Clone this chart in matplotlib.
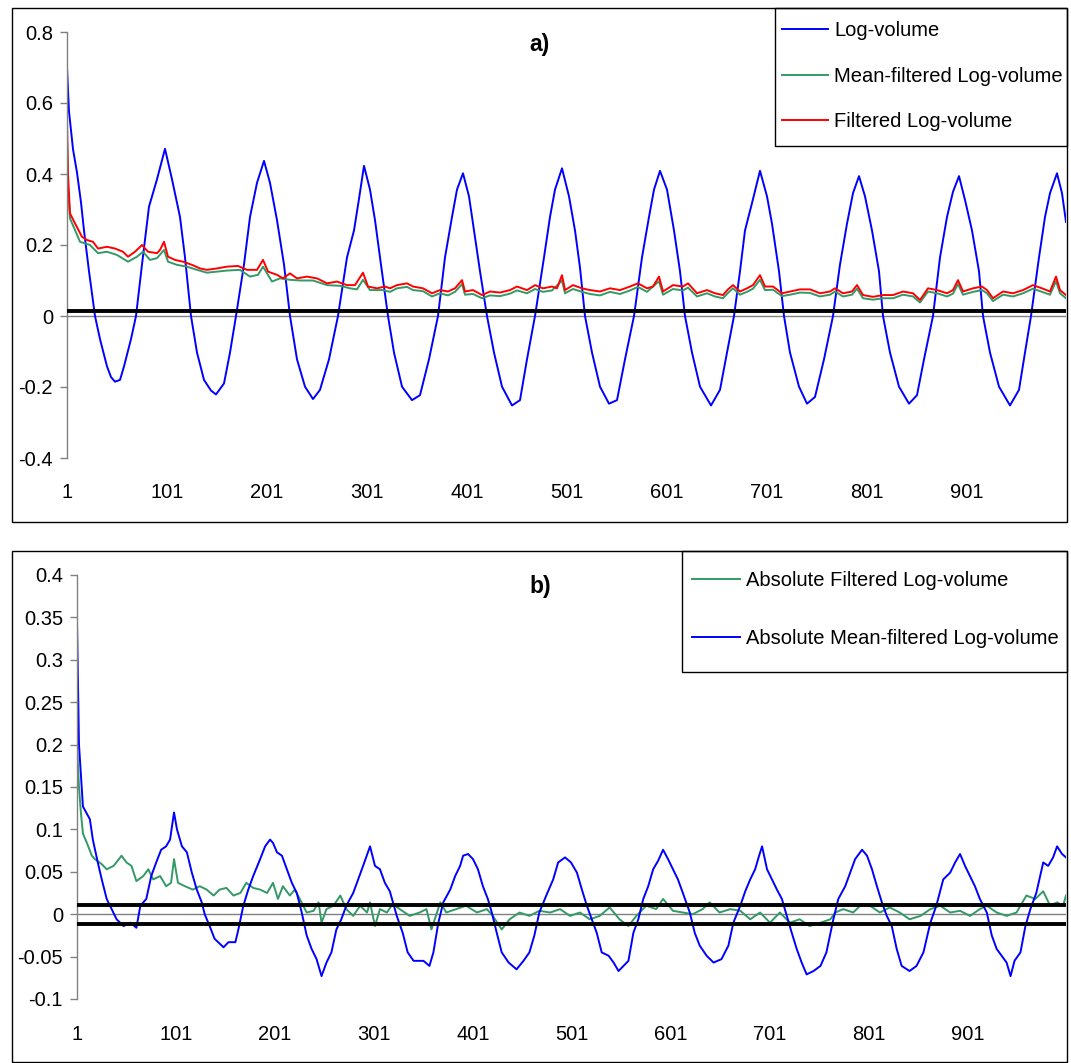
import matplotlib
matplotlib.use('Agg')
import matplotlib.pyplot as plt
from matplotlib.patches import Rectangle

plt.rcParams['font.family'] = ['Liberation Sans', 'DejaVu Sans']

# ---------------- data ----------------
# Panel a) Log-volume
a_logvol_x = [1, 3, 7, 11, 15, 18, 23, 29, 34, 41, 45, 49, 54, 58, 65, 70, 76, 83, 91, 99,
              106, 114, 119, 125, 131, 138, 145, 150, 158, 164, 170, 178, 184, 191, 198,
              204, 211, 218, 224, 231, 239, 247, 254, 263, 272, 281, 288, 293, 298,
              304, 309, 314, 322, 328, 336, 346, 354, 363, 372, 379, 386, 391, 397,
              403, 409, 414, 421, 428, 436, 446, 454, 461, 469, 478, 484, 489, 496,
              503, 509, 514, 519, 526, 534, 543, 551, 559, 568, 576, 583, 588, 594,
              601, 608, 614, 619, 626, 634, 645, 654, 661, 668, 674, 679, 686, 694,
              701, 706, 713, 718, 724, 733, 741, 749, 758, 767, 774, 781, 787, 793,
              799, 806, 813, 817, 824, 833, 843, 851, 858, 867, 874, 881, 887, 893,
              899, 906, 913, 917, 924, 933, 944, 953, 959, 965, 973, 979, 984, 991,
              996, 1000]
a_logvol_y = [0.70, 0.576, 0.47, 0.404, 0.32, 0.241, 0.126, 0.0, -0.065, -0.142, -0.172, -0.185, -0.18, -0.142, -0.065, 0.0, 0.145, 0.308, 0.385, 0.471,
              0.385, 0.279, 0.165, 0.0, -0.103, -0.18, -0.21, -0.221, -0.19, -0.103, 0.0, 0.145, 0.279, 0.375, 0.437,
              0.375, 0.27, 0.145, 0.0, -0.122, -0.199, -0.234, -0.208, -0.122, 0.0, 0.165, 0.241, 0.33, 0.423,
              0.356, 0.27, 0.165, 0.0, -0.103, -0.199, -0.237, -0.223, -0.122, 0.0, 0.165, 0.279, 0.356, 0.402,
              0.337, 0.222, 0.126, 0.0, -0.103, -0.199, -0.252, -0.237, -0.122, 0.0, 0.165, 0.279, 0.356, 0.416,
              0.337, 0.241, 0.136, 0.0, -0.103, -0.199, -0.247, -0.237, -0.122, 0.0, 0.165, 0.279, 0.356, 0.409,
              0.356, 0.241, 0.126, 0.0, -0.103, -0.199, -0.252, -0.208, -0.103, 0.0, 0.126, 0.241, 0.318, 0.409,
              0.337, 0.26, 0.126, 0.0, -0.103, -0.199, -0.247, -0.228, -0.122, 0.0, 0.145, 0.26, 0.346, 0.394,
              0.337, 0.241, 0.126, 0.0, -0.103, -0.199, -0.247, -0.223, -0.122, 0.0, 0.165, 0.279, 0.35, 0.394,
              0.327, 0.241, 0.126, 0.0, -0.103, -0.199, -0.252, -0.208, -0.103, 0.0, 0.165, 0.279, 0.346, 0.402,
              0.346, 0.265]

# Panel a) Filtered Log-volume (red)
a_filt_x = [1, 2, 4, 9, 16, 21, 27, 32, 41, 49, 57, 62, 69, 76, 82, 91, 94, 98, 102, 109, 117, 126,
            134, 141, 151, 161, 172, 181, 191, 197, 202, 211, 217, 224, 231, 241, 251, 261, 271,
            281, 289, 297, 302, 311, 319, 324, 331, 341, 347, 357, 366, 374, 382, 389, 396, 399,
            407, 416, 424, 434, 444, 451, 461, 469, 477, 486, 491, 496, 499, 507, 516, 524, 534,
            544, 554, 564, 572, 581, 587, 593, 597, 607, 617, 622, 631, 641, 649, 657, 662, 667,
            674, 681, 687, 694, 699, 707, 716, 724, 734, 744, 754, 764, 769, 777, 786, 791, 797,
            807, 817, 827, 837, 847, 854, 862, 871, 881, 887, 892, 897, 907, 916, 921, 927, 937,
            947, 957, 967, 976, 984, 990, 994, 1000]
a_filt_y = [0.548, 0.40, 0.289, 0.261, 0.223, 0.214, 0.209, 0.19, 0.195, 0.19, 0.181, 0.167, 0.181, 0.20, 0.181, 0.177, 0.186, 0.209, 0.167, 0.158, 0.153, 0.144,
            0.134, 0.13, 0.134, 0.139, 0.141, 0.13, 0.13, 0.158, 0.125, 0.116, 0.106, 0.12, 0.106, 0.111, 0.106, 0.092, 0.097,
            0.087, 0.087, 0.122, 0.083, 0.078, 0.083, 0.078, 0.087, 0.092, 0.083, 0.078, 0.064, 0.073, 0.069, 0.078, 0.101, 0.069,
            0.073, 0.059, 0.069, 0.066, 0.073, 0.083, 0.073, 0.087, 0.078, 0.083, 0.078, 0.115, 0.073, 0.087, 0.078, 0.073, 0.069,
            0.078, 0.073, 0.083, 0.092, 0.078, 0.083, 0.111, 0.069, 0.087, 0.083, 0.092, 0.064, 0.073, 0.064, 0.059, 0.075, 0.087,
            0.069, 0.078, 0.087, 0.115, 0.083, 0.083, 0.064, 0.069, 0.075, 0.075, 0.064, 0.069, 0.078, 0.064, 0.069, 0.087, 0.059,
            0.054, 0.059, 0.059, 0.069, 0.064, 0.045, 0.078, 0.073, 0.064, 0.073, 0.101, 0.069, 0.078, 0.083, 0.073, 0.05, 0.069,
            0.064, 0.073, 0.087, 0.078, 0.069, 0.111, 0.073, 0.059]

# Panel a) Mean-filtered Log-volume (green)
a_mean_x = [1, 2, 4, 14, 24, 32, 41, 51, 62, 71, 77, 84, 91, 98, 102, 111, 121, 131, 141, 151, 161,
            174, 184, 192, 197, 206, 214, 224, 234, 247, 261, 274, 284, 291, 297, 304, 317, 324, 331,
            341, 347, 357, 366, 374, 382, 389, 396, 399, 407, 416, 424, 434, 444, 451, 461, 469, 477,
            486, 496, 499, 507, 516, 524, 534, 544, 554, 564, 572, 581, 593, 597, 607, 617, 622, 631,
            641, 649, 657, 662, 667, 674, 681, 687, 694, 699, 707, 716, 724, 734, 744, 754, 764, 769,
            777, 786, 791, 797, 807, 817, 827, 837, 847, 854, 862, 871, 881, 887, 892, 897, 907, 916,
            921, 927, 937, 947, 957, 967, 976, 984, 990, 994, 1000]
a_mean_y = [0.50, 0.36, 0.275, 0.209, 0.20, 0.177, 0.181, 0.172, 0.153, 0.167, 0.181, 0.158, 0.163, 0.186, 0.153, 0.144, 0.139, 0.13, 0.122, 0.125, 0.128,
            0.13, 0.111, 0.116, 0.139, 0.097, 0.106, 0.102, 0.10, 0.10, 0.087, 0.085, 0.078, 0.075, 0.102, 0.073, 0.073, 0.068, 0.078,
            0.082, 0.073, 0.07, 0.055, 0.064, 0.058, 0.068, 0.09, 0.06, 0.062, 0.05, 0.058, 0.056, 0.063, 0.072, 0.064, 0.076, 0.068,
            0.072, 0.10, 0.064, 0.076, 0.068, 0.062, 0.058, 0.068, 0.062, 0.072, 0.082, 0.068, 0.098, 0.06, 0.076, 0.072, 0.08, 0.055,
            0.064, 0.055, 0.05, 0.065, 0.078, 0.06, 0.068, 0.077, 0.102, 0.073, 0.074, 0.056, 0.06, 0.066, 0.065, 0.055, 0.06, 0.069,
            0.055, 0.06, 0.077, 0.05, 0.046, 0.05, 0.05, 0.06, 0.055, 0.038, 0.069, 0.064, 0.055, 0.063, 0.09, 0.06, 0.068, 0.073,
            0.064, 0.042, 0.06, 0.055, 0.064, 0.077, 0.068, 0.06, 0.098, 0.064, 0.05]

# Panel b) Absolute Mean-filtered Log-volume (blue)
b_mean_x = [1, 3, 7, 14, 17, 22, 26, 31, 36, 41, 48, 55, 61, 65, 71, 76, 81, 86, 91, 95, 99,
            102, 107, 112, 117, 122, 127, 130, 135, 140, 149, 154, 161, 164, 169, 174, 179, 186,
            191, 196, 199, 203, 208, 213, 218, 223, 228, 233, 238, 243, 248, 253, 258, 263, 268,
            273, 280, 285, 290, 297, 302, 307, 312, 317, 324, 330, 335, 341, 351, 357, 361, 366,
            371, 378, 383, 388, 391, 396, 401, 406, 411, 416, 420, 425, 430, 437, 445, 452, 458,
            463, 468, 475, 482, 487, 494, 500, 506, 511, 516, 521, 526, 531, 538, 543, 548, 553,
            558, 563, 568, 573, 578, 583, 588, 593, 598, 603, 608, 613, 620, 625, 630, 637, 644,
            652, 659, 664, 671, 676, 681, 686, 690, 693, 698, 703, 708, 713, 718, 723, 728, 733,
            738, 745, 752, 758, 765, 770, 777, 782, 787, 794, 799, 804, 809, 814, 819, 824, 829,
            834, 842, 849, 856, 863, 869, 876, 883, 888, 893, 898, 903, 908, 913, 920, 925, 930,
            935, 940, 944, 948, 954, 959, 964, 970, 977, 982, 987, 991, 996, 1000]
b_mean_y = [0.345, 0.20, 0.127, 0.112, 0.088, 0.061, 0.041, 0.018, 0.006, -0.006, -0.014, -0.01, -0.016, 0.01, 0.018, 0.045, 0.061, 0.076, 0.08, 0.088, 0.12,
            0.10, 0.08, 0.073, 0.049, 0.029, 0.014, 0.0, -0.014, -0.029, -0.039, -0.033, -0.033, -0.018, 0.01, 0.029, 0.045, 0.065,
            0.08, 0.088, 0.084, 0.073, 0.069, 0.053, 0.037, 0.025, 0.002, -0.025, -0.041, -0.053, -0.073, -0.057, -0.045, -0.018, -0.006,
            0.01, 0.025, 0.041, 0.057, 0.08, 0.057, 0.053, 0.037, 0.027, -0.002, -0.022, -0.045, -0.055, -0.055, -0.061, -0.045, -0.01,
            0.014, 0.029, 0.045, 0.057, 0.069, 0.071, 0.065, 0.053, 0.033, 0.018, 0.002, -0.022, -0.045, -0.057, -0.065, -0.055, -0.045,
            -0.025, 0.002, 0.022, 0.041, 0.061, 0.067, 0.061, 0.049, 0.029, 0.01, -0.006, -0.022, -0.045, -0.049, -0.057, -0.067, -0.061,
            -0.055, -0.022, -0.006, 0.018, 0.033, 0.053, 0.063, 0.076, 0.065, 0.053, 0.041, 0.025, 0.002, -0.022, -0.037, -0.049, -0.057,
            -0.053, -0.037, -0.01, 0.01, 0.027, 0.041, 0.053, 0.069, 0.08, 0.053, 0.041, 0.029, 0.018, -0.002, -0.022, -0.041, -0.057,
            -0.071, -0.067, -0.061, -0.045, -0.006, 0.018, 0.033, 0.049, 0.065, 0.076, 0.069, 0.053, 0.033, 0.014, -0.002, -0.014, -0.041,
            -0.061, -0.067, -0.061, -0.045, -0.01, 0.01, 0.041, 0.049, 0.061, 0.071, 0.057, 0.045, 0.033, 0.018, 0.002, -0.025, -0.041,
            -0.049, -0.057, -0.073, -0.055, -0.045, -0.014, 0.006, 0.025, 0.061, 0.057, 0.067, 0.08, 0.071, 0.067]

# Panel b) Absolute Filtered Log-volume (green)
b_filt_x = [1, 3, 5, 7, 11, 16, 19, 26, 31, 38, 46, 51, 56, 61, 68, 73, 78, 85, 91, 96, 99, 103,
            110, 118, 125, 132, 139, 145, 152, 159, 166, 172, 179, 186, 193, 199, 204, 209, 216,
            221, 226, 233, 240, 245, 248, 253, 260, 267, 273, 280, 287, 294, 297, 302, 307, 314,
            320, 327, 337, 347, 354, 359, 368, 374, 384, 394, 405, 415, 421, 430, 438, 448, 458,
            468, 479, 489, 499, 509, 519, 529, 539, 549, 558, 566, 576, 586, 593, 603, 613, 623,
            633, 640, 650, 661, 671, 681, 691, 701, 711, 721, 731, 741, 752, 762, 767, 775, 785,
            794, 802, 812, 822, 832, 842, 853, 863, 873, 883, 893, 903, 913, 920, 930, 940, 950,
            960, 969, 977, 984, 991, 997, 1000]
b_filt_y = [0.20, 0.15, 0.119, 0.095, 0.084, 0.069, 0.065, 0.059, 0.053, 0.057, 0.069, 0.061, 0.057, 0.039, 0.045, 0.053, 0.041, 0.045, 0.033, 0.037, 0.065, 0.037,
            0.033, 0.029, 0.033, 0.029, 0.022, 0.029, 0.031, 0.022, 0.025, 0.037, 0.031, 0.029, 0.025, 0.037, 0.018, 0.033, 0.022,
            0.029, 0.018, 0.002, 0.004, 0.014, -0.01, 0.006, 0.01, 0.022, 0.006, -0.002, 0.01, 0.002, 0.014, -0.014, 0.006, 0.002,
            0.012, 0.006, -0.002, 0.002, 0.006, -0.018, 0.014, 0.002, 0.006, 0.01, 0.002, 0.006, -0.002, -0.018, -0.006, 0.002, -0.002,
            0.004, 0.002, 0.006, -0.002, 0.002, -0.006, -0.002, 0.008, -0.006, -0.014, -0.002, 0.01, 0.006, 0.018, 0.004, 0.002, 0.0,
            0.006, 0.014, 0.002, 0.006, 0.004, -0.006, 0.002, -0.01, 0.002, -0.01, -0.006, -0.014, -0.01, -0.006, 0.002, 0.006, 0.002,
            0.012, 0.01, 0.002, 0.008, 0.002, -0.006, -0.002, 0.006, 0.01, 0.002, 0.004, -0.002, 0.006, 0.01, 0.002, -0.002, 0.002,
            0.022, 0.018, 0.027, 0.01, 0.014, 0.01, 0.022]

a_xticks = [1, 101, 201, 301, 401, 501, 601, 701, 801, 901]
a_yticks = [-0.4, -0.2, 0, 0.2, 0.4, 0.6, 0.8]
a_ytick_labels = ['-0.4', '-0.2', '0', '0.2', '0.4', '0.6', '0.8']
b_yticks = [-0.1, -0.05, 0, 0.05, 0.1, 0.15, 0.2, 0.25, 0.3, 0.35, 0.4]
b_ytick_labels = ['-0.1', '-0.05', '0', '0.05', '0.1', '0.15', '0.2', '0.25', '0.3', '0.35', '0.4']
a_thresholds = [0.013]
b_thresholds = [0.011, -0.011]

# ---------------- layout ----------------
W, H = 1071, 1063
fig = plt.figure(figsize=(W / 100, H / 100), dpi=100)

def fx(px):
    return px / W

def fy(py):
    return 1 - py / H

FS = 14.5
BLUE = '#0000FF'
RED = '#FF0000'
GREEN = '#339966'
GRAY = '#808080'

# outer panel borders + legend frames (no fill)
for (x0, y0, x1, y1) in [(12, 8, 1067, 522), (12, 551, 1067, 1062),
                         (775, 8, 1067, 146), (682, 551, 1067, 672)]:
    fig.patches.append(Rectangle((fx(x0), fy(y1)), fx(x1) - fx(x0), fy(y0) - fy(y1),
                                 transform=fig.transFigure, fill=False, edgecolor='black',
                                 linewidth=1.0, zorder=3))


def style_axes(ax, xpad):
    for s in ['top', 'right', 'bottom']:
        ax.spines[s].set_visible(False)
    ax.spines['left'].set_color(GRAY)
    ax.spines['left'].set_linewidth(1.0)
    ax.tick_params(axis='y', direction='out', length=5, width=1, color=GRAY,
                   labelsize=FS, pad=5)
    ax.tick_params(axis='x', length=0, labelsize=FS, pad=xpad)
    ax.set_xticks(a_xticks)
    ax.set_xticklabels([str(t) for t in a_xticks])
    ax.patch.set_alpha(0)


# ---- panel a ----
axa = fig.add_axes([fx(67), fy(458), fx(1066) - fx(67), fy(32) - fy(458)])
axa.plot(a_logvol_x, a_logvol_y, color=BLUE, lw=1.4, label='Log-volume')
axa.plot(a_mean_x, a_mean_y, color=GREEN, lw=1.4, label='Mean-filtered Log-volume')
axa.plot(a_filt_x, a_filt_y, color=RED, lw=1.4, label='Filtered Log-volume')
axa.axhline(0, color=GRAY, lw=1.0, zorder=1)
for t in a_thresholds:
    axa.axhline(t, color='black', lw=2.8, zorder=5)
axa.set_xlim(1, 1000)
axa.set_ylim(-0.4, 0.8)
axa.set_yticks(a_yticks)
axa.set_yticklabels(a_ytick_labels)
style_axes(axa, 18)
fig.text(fx(540), fy(44), 'a)', fontsize=16.5, fontweight='bold', ha='center', va='center')

lega = axa.legend(loc='upper left', bbox_to_anchor=(fx(782), fy(21)),
                  bbox_transform=fig.transFigure, frameon=False, fontsize=FS,
                  borderpad=0, borderaxespad=0, handlelength=2.28, handletextpad=0.3,
                  labelspacing=1.32)
lega.set_zorder(10)

# ---- panel b ----
axb = fig.add_axes([fx(77), fy(999), fx(1066) - fx(77), fy(575) - fy(999)])
axb.plot(b_filt_x, b_filt_y, color=GREEN, lw=1.4, label='Absolute Filtered Log-volume')
axb.plot(b_mean_x, b_mean_y, color=BLUE, lw=1.4, label='Absolute Mean-filtered Log-volume')
axb.axhline(0, color=GRAY, lw=1.0, zorder=1)
for t in b_thresholds:
    axb.axhline(t, color='black', lw=2.8, zorder=5)
axb.set_xlim(1, 1000)
axb.set_ylim(-0.1, 0.4)
axb.set_yticks(b_yticks)
axb.set_yticklabels(b_ytick_labels)
style_axes(axb, 19)
fig.text(fx(540), fy(587), 'b)', fontsize=16.5, fontweight='bold', ha='center', va='center')

legb = axb.legend(loc='upper left', bbox_to_anchor=(fx(692), fy(571)),
                  bbox_transform=fig.transFigure, frameon=False, fontsize=FS,
                  borderpad=0, borderaxespad=0, handlelength=2.4, handletextpad=0.3,
                  labelspacing=1.96)
legb.set_zorder(10)

fig.savefig('out.png', dpi=100)
